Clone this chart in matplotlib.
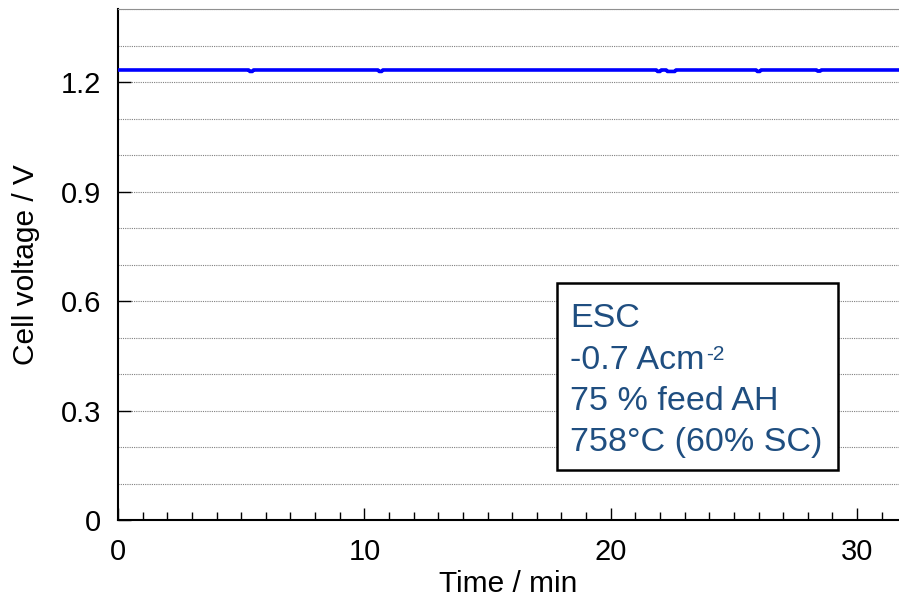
import matplotlib
matplotlib.use("Agg")
import matplotlib.pyplot as plt
from matplotlib.patches import Rectangle
from matplotlib.ticker import MultipleLocator

plt.rcParams['font.family'] = ['Liberation Sans', 'DejaVu Sans']

# time (min) and cell voltage (V)
time_min = [0, 5.30, 5.35, 5.45, 5.50, 10.55, 10.60, 10.70, 10.75,
            21.85, 21.90, 22.00, 22.05, 22.25, 22.30, 22.60, 22.65,
            25.90, 25.95, 26.05, 26.10, 28.35, 28.40, 28.50, 28.55, 31.7]
voltage = [1.233, 1.233, 1.229, 1.229, 1.233, 1.233, 1.229, 1.229, 1.233,
           1.233, 1.229, 1.229, 1.233, 1.233, 1.229, 1.229, 1.233,
           1.233, 1.229, 1.229, 1.233, 1.233, 1.230, 1.230, 1.233, 1.233]

info_lines = ["ESC", "-0.7 Acm", "75 % feed AH", "758°C (60% SC)"]
info_sup = "-2"
text_col = "#1f4e80"

fig = plt.figure(figsize=(8.99, 5.98), dpi=100)
ax = fig.add_axes([0.1313, 0.1304, 0.8687, 0.8545])

ax.plot(time_min, voltage, color="#0000ff", lw=2.6, zorder=3)

ax.set_xlim(0, 31.7)
ax.set_ylim(0, 1.4)
ax.xaxis.set_major_locator(MultipleLocator(10))
ax.xaxis.set_minor_locator(MultipleLocator(1))
ax.yaxis.set_minor_locator(MultipleLocator(0.1))
ax.set_yticks([0, 0.3, 0.6, 0.9, 1.2])
ax.set_yticklabels(["0", "0.3", "0.6", "0.9", "1.2"])

ax.grid(True, which="both", axis="y", color="#808080", ls=(0, (1, 1)), lw=0.8)
ax.set_axisbelow(True)

ax.tick_params(which="major", direction="in", length=9, width=1, labelsize=21)
ax.tick_params(axis="x", which="major", pad=13)
ax.tick_params(axis="y", which="major", pad=12)
ax.tick_params(which="minor", direction="in", length=6, width=1)
ax.tick_params(axis="y", which="minor", length=0)

for s in ["left", "bottom"]:
    ax.spines[s].set_linewidth(1.5)
ax.spines["top"].set_color("#909090")
ax.spines["right"].set_visible(False)

ax.set_xlabel("Time / min", fontsize=21.5, labelpad=3)
ax.set_ylabel("Cell voltage / V", fontsize=21.5, labelpad=15)

# info box
ax.add_patch(Rectangle((0.562, 0.0978), 0.360, 0.366, transform=ax.transAxes,
                       fc="white", ec="black", lw=1.8, zorder=4))
baselines = [0.3777, 0.2955, 0.2153, 0.1350]
texts = []
for line, yb in zip(info_lines, baselines):
    texts.append(ax.text(0.5788, yb, line, transform=ax.transAxes, fontsize=24.5,
                         color=text_col, va="baseline", ha="left", zorder=5))
ax.annotate(info_sup, xy=(1, 1), xycoords=texts[1], xytext=(1, 0),
            textcoords="offset points", fontsize=15, color=text_col,
            va="top", ha="left", zorder=5)

fig.savefig("out.png", dpi=100)
